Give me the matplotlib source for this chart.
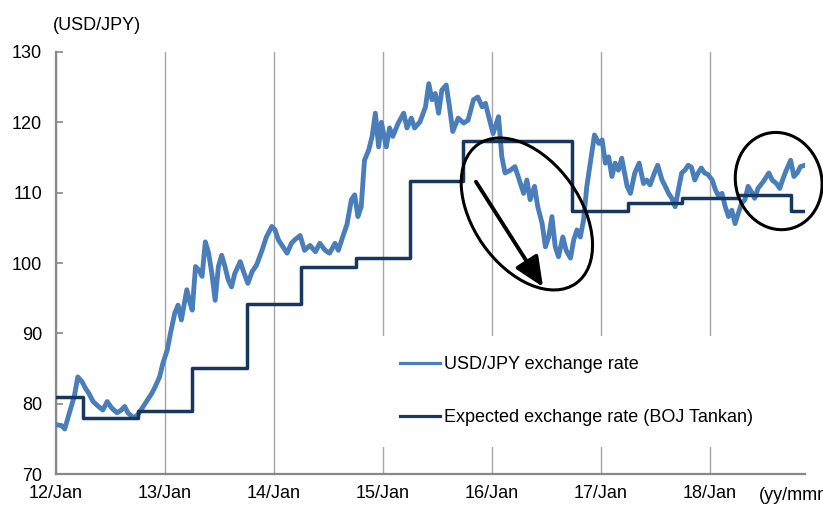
import matplotlib
matplotlib.use("Agg")
import matplotlib.pyplot as plt
from matplotlib.patches import Ellipse
from matplotlib.lines import Line2D
from matplotlib.transforms import ScaledTranslation

plt.rcParams['font.family'] = ['Liberation Sans', 'DejaVu Sans']

# ---- data (time in decimal years) ----
usd_t = [2012.00, 2012.05, 2012.08, 2012.11, 2012.14, 2012.17, 2012.20, 2012.24, 2012.27, 2012.30,
         2012.34, 2012.39, 2012.43, 2012.47, 2012.51, 2012.56, 2012.60, 2012.63, 2012.66, 2012.71,
         2012.75, 2012.80, 2012.83, 2012.88, 2012.91, 2012.95, 2012.98, 2013.02, 2013.05, 2013.09,
         2013.12, 2013.15, 2013.20, 2013.23, 2013.25, 2013.28, 2013.31, 2013.34, 2013.37, 2013.40,
         2013.43, 2013.46, 2013.49, 2013.52, 2013.55, 2013.58, 2013.61, 2013.64, 2013.69, 2013.72,
         2013.76, 2013.80, 2013.84, 2013.89, 2013.93, 2013.98, 2014.01, 2014.04, 2014.09, 2014.12,
         2014.16, 2014.19, 2014.24, 2014.28, 2014.33, 2014.38, 2014.42, 2014.47, 2014.51, 2014.56,
         2014.59, 2014.63, 2014.67, 2014.71, 2014.74, 2014.77, 2014.80, 2014.83, 2014.87, 2014.90,
         2014.93, 2014.96, 2014.985, 2015.03, 2015.06, 2015.09, 2015.14, 2015.19, 2015.22, 2015.26,
         2015.29, 2015.34, 2015.39, 2015.42, 2015.45, 2015.48, 2015.51, 2015.54, 2015.58, 2015.61,
         2015.64, 2015.69, 2015.74, 2015.78, 2015.83, 2015.87, 2015.91, 2015.94, 2015.97, 2016.01,
         2016.06, 2016.09, 2016.12, 2016.17, 2016.21, 2016.24, 2016.29, 2016.32, 2016.35, 2016.39,
         2016.42, 2016.46, 2016.49, 2016.52, 2016.55, 2016.58, 2016.61, 2016.65, 2016.68, 2016.72,
         2016.75, 2016.78, 2016.81, 2016.84, 2016.87, 2016.91, 2016.94, 2016.98, 2017.01, 2017.04,
         2017.07, 2017.10, 2017.13, 2017.16, 2017.19, 2017.24, 2017.27, 2017.31, 2017.35, 2017.39,
         2017.42, 2017.45, 2017.49, 2017.52, 2017.56, 2017.59, 2017.62, 2017.65, 2017.68, 2017.71,
         2017.74, 2017.77, 2017.80, 2017.83, 2017.86, 2017.89, 2017.92, 2017.95, 2017.98, 2018.02,
         2018.05, 2018.08, 2018.11, 2018.14, 2018.17, 2018.20, 2018.23, 2018.26, 2018.29, 2018.32,
         2018.35, 2018.38, 2018.41, 2018.44, 2018.49, 2018.54, 2018.57, 2018.61, 2018.64, 2018.67,
         2018.70, 2018.74, 2018.77, 2018.80, 2018.83, 2018.87]
usd_v = [77.0, 76.9, 76.4, 78.0, 79.6, 81.2, 83.8, 83.1, 82.2, 81.5,
         80.3, 79.6, 79.1, 80.3, 79.4, 78.7, 79.1, 79.6, 78.7, 78.0,
         78.4, 79.6, 80.3, 81.5, 82.4, 83.8, 85.7, 87.6, 90.0, 92.9,
         94.0, 91.9, 96.2, 94.3, 93.3, 99.5, 99.0, 98.1, 103.0, 101.4,
         98.5, 94.7, 99.5, 101.1, 99.5, 97.6, 96.6, 98.5, 100.2, 98.8,
         97.1, 98.8, 99.7, 101.8, 103.7, 105.2, 104.7, 103.3, 102.1, 101.4,
         102.8, 103.3, 103.9, 101.8, 102.5, 101.6, 102.8, 101.8, 101.4, 102.8,
         101.8, 103.7, 105.5, 109.0, 109.7, 106.6, 108.0, 114.6, 116.1, 118.0,
         121.3, 116.5, 120.0, 116.5, 119.2, 118.0, 119.9, 121.3, 119.2, 120.6,
         119.2, 120.1, 122.2, 125.5, 123.2, 124.1, 121.3, 124.6, 125.3, 122.2,
         118.7, 120.6, 119.9, 120.3, 123.2, 123.6, 122.2, 122.7, 120.8, 118.4,
         120.8, 115.1, 112.8, 113.2, 113.7, 112.3, 109.9, 111.8, 109.0, 110.9,
         108.0, 105.6, 102.3, 103.7, 106.6, 102.3, 100.9, 103.7, 101.8, 100.7,
         103.3, 104.7, 103.7, 106.1, 110.9, 115.1, 118.2, 117.0, 117.5, 114.2,
         115.1, 112.3, 114.2, 113.2, 114.9, 110.9, 109.9, 112.8, 114.2, 111.3,
         111.8, 111.1, 112.8, 113.9, 111.8, 110.9, 109.9, 109.2, 108.0, 110.4,
         112.8, 113.2, 113.9, 113.6, 111.8, 112.8, 113.5, 112.8, 112.6, 111.8,
         110.4, 109.5, 109.9, 108.0, 106.6, 107.5, 105.6, 107.1, 108.5, 109.0,
         110.9, 110.1, 109.2, 110.6, 111.6, 112.8, 111.8, 111.3, 110.6, 112.0,
         113.2, 114.6, 112.3, 112.8, 113.7, 113.9]

tankan_t = [2012.00, 2012.25, 2012.75, 2013.25, 2013.75, 2014.25, 2014.75, 2015.25, 2015.73,
            2016.73, 2017.25, 2017.74, 2018.26, 2018.74, 2018.875]
tankan_v = [81.0, 78.0, 79.0, 85.1, 94.1, 99.5, 100.7, 111.6, 117.4,
            107.4, 108.5, 109.2, 109.7, 107.4, 107.4]

year_ticks = [2012, 2013, 2014, 2015, 2016, 2017, 2018]
year_labels = ['12/Jan', '13/Jan', '14/Jan', '15/Jan', '16/Jan', '17/Jan', '18/Jan']
y_ticks = [70, 80, 90, 100, 110, 120, 130]

label_usd = 'USD/JPY exchange rate'
label_tankan = 'Expected exchange rate (BOJ Tankan)'

c_usd = '#4A7EBB'
c_tankan = '#17375E'
FS = 13

fig = plt.figure(figsize=(8.23, 5.05), dpi=100)
ax = fig.add_axes([56/823, 1 - 474/505, 749/823, 422/505])

ax.plot(usd_t, usd_v, color=c_usd, lw=3.5, solid_joinstyle='round', zorder=3)
ax.step(tankan_t, tankan_v, where='post', color=c_tankan, lw=2.5, zorder=4)

ax.set_xlim(2012, 2012 + 749/109)
ax.set_ylim(70, 130)
ax.set_xticks(year_ticks)
ax.set_xticklabels(year_labels)
ax.set_yticks(y_ticks)
ax.grid(axis='x', color='#A6A6A6', lw=1.0, zorder=1)
ax.grid(axis='y', visible=False)
for s in ['top', 'right']:
    ax.spines[s].set_visible(False)
for s in ['left', 'bottom']:
    ax.spines[s].set_color('#888888')
    ax.spines[s].set_linewidth(1.6)
ax.tick_params(axis='y', direction='in', length=5, width=1.2, color='#888888',
               labelsize=FS, pad=10)
ax.tick_params(axis='x', length=0, labelsize=FS, pad=8)

# legend
handles = [Line2D([], [], color=c_usd, lw=2.3), Line2D([], [], color=c_tankan, lw=2.3)]
leg = ax.legend(handles, [label_usd, label_tankan], loc='upper left',
                bbox_to_anchor=((380-56)/749, 1 - (336-52)/422), borderaxespad=0,
                frameon=True, fancybox=False, facecolor='white', edgecolor='none',
                framealpha=1, fontsize=FS, handlelength=2.2, handletextpad=0.19,
                labelspacing=1.98, borderpad=1.13)
leg.set_zorder(5)

# annotations: ellipses and arrow
dpi = fig.dpi
t1 = fig.dpi_scale_trans + ScaledTranslation(2016.32, 106.97, ax.transData)
ax.add_patch(Ellipse((0, 0), 2*85/dpi, 2*53.5/dpi, angle=-54.8, transform=t1,
                     fill=False, ec='black', lw=2.2, zorder=6, clip_on=False))
t2 = fig.dpi_scale_trans + ScaledTranslation(2018.63, 111.65, ax.transData)
ax.add_patch(Ellipse((0, 0), 2*43/dpi, 2*49/dpi, angle=15, transform=t2,
                     fill=False, ec='black', lw=2.2, zorder=6, clip_on=False))
ax.annotate('', xy=(2016.468, 96.6), xytext=(2015.853, 111.55),
            arrowprops=dict(arrowstyle='-|>,head_length=0.9,head_width=0.4',
                            mutation_scale=20, lw=2.8, color='black',
                            shrinkA=0, shrinkB=0), zorder=7)

fig.text(53/823, 1 - 25/505, '(USD/JPY)', fontsize=FS, va='center', ha='left')
fig.text(759/823, 1 - 495/505, '(yy/mmm)', fontsize=FS, va='center', ha='left')

fig.savefig('out.png', dpi=100)
